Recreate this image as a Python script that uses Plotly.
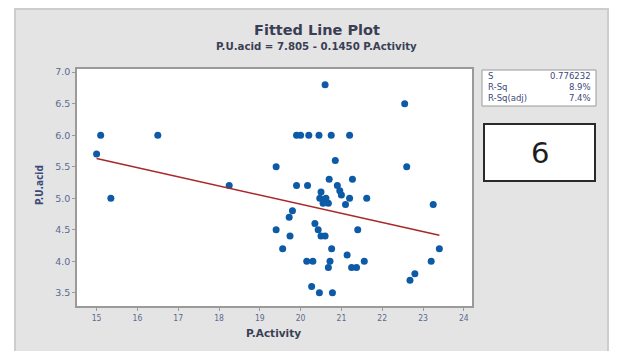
import plotly.graph_objects as go

# ---- data ----
p_activity = [15.0, 15.1, 15.35, 16.5, 18.25, 19.4, 19.4, 20.6, 22.55,
              19.9, 20.0, 20.2, 20.45, 20.75, 21.2, 20.85, 22.6, 20.7, 21.27,
              19.9, 20.17, 20.9, 20.96, 21.0, 20.5, 20.47, 20.62, 20.68, 20.55,
              21.2, 21.62, 21.1, 23.25, 19.8, 19.72, 20.35, 20.43, 20.5, 20.6,
              19.74, 21.4, 19.56, 20.76, 23.4, 21.14, 20.15, 20.3, 20.72, 20.68,
              21.25, 21.37, 21.56, 23.2, 22.8, 22.68, 20.27, 20.46, 20.78]
p_uacid = [5.7, 6.0, 5.0, 6.0, 5.2, 5.5, 4.5, 6.8, 6.5,
           6.0, 6.0, 6.0, 6.0, 6.0, 6.0, 5.6, 5.5, 5.3, 5.3,
           5.2, 5.2, 5.2, 5.12, 5.05, 5.1, 5.0, 5.0, 4.92, 4.92,
           5.0, 5.0, 4.9, 4.9, 4.8, 4.7, 4.6, 4.5, 4.4, 4.4,
           4.4, 4.5, 4.2, 4.2, 4.2, 4.1, 4.0, 4.0, 4.0, 3.9,
           3.9, 3.9, 4.0, 4.0, 3.8, 3.7, 3.6, 3.5, 3.5]
intercept = 7.805
slope = -0.1450
fit_x = [min(p_activity), max(p_activity)]
fit_y = [intercept + slope * v for v in fit_x]

x_ticks = [15, 16, 17, 18, 19, 20, 21, 22, 23, 24]
y_ticks = [3.5, 4.0, 4.5, 5.0, 5.5, 6.0, 6.5, 7.0]
stat_labels = ["S", "R-Sq", "R-Sq(adj)"]
stat_values = ["0.776232", "8.9%", "7.4%"]
title = "Fitted Line Plot"
subtitle = "P.U.acid = 7.805 - 0.1450 P.Activity"
box_number = "6"

# ---- layout geometry (pixels) ----
W, H = 622, 351
L, R, T, B = 77, 472, 69, 306


def px(x):
    return (x - L) / (R - L)


def py(y):
    return (B - y) / (B - T)


FONT = "DejaVu Sans"
COND = "DejaVu Sans Condensed, DejaVu Sans"
TXT = "#3b4a78"
DARK = "#3a3f55"

fig = go.Figure()
fig.add_trace(go.Scatter(x=p_activity, y=p_uacid, mode="markers",
                         marker=dict(symbol="circle", size=7, color="#0d5aa7"),
                         hoverinfo="x+y", showlegend=False))
fig.add_trace(go.Scatter(x=fit_x, y=fit_y, mode="lines",
                         line=dict(color="#a8282a", width=1.6),
                         hoverinfo="skip", showlegend=False))

shapes = [
    # gray panel
    dict(type="rect", xref="paper", yref="paper", x0=px(15), x1=px(608),
         y0=py(360), y1=py(9), fillcolor="#e4e4e4",
         line=dict(color="#cdcdcd", width=2), layer="below"),
    # white plot area
    dict(type="rect", xref="paper", yref="paper", x0=0, x1=1, y0=0, y1=1,
         fillcolor="white", line=dict(width=0), layer="below"),
    # stats box
    dict(type="rect", xref="paper", yref="paper", x0=px(482), x1=px(596),
         y0=py(106), y1=py(70), fillcolor="white",
         line=dict(color="#9a9a9a", width=1)),
    # number box
    dict(type="rect", xref="paper", yref="paper", x0=px(484), x1=px(595),
         y0=py(181), y1=py(124), fillcolor="white",
         line=dict(color="#2a2a2a", width=2)),
]

ann = [
    dict(text="<b>" + title + "</b>", x=px(317), y=py(30), font=dict(family=FONT, size=14.5, color=DARK)),
    dict(text="<b>" + subtitle + "</b>", x=px(316), y=py(46), font=dict(family=FONT, size=10.2, color=DARK)),
    dict(text="<b>P.U.acid</b>", x=px(39), y=py(185), textangle=-90, font=dict(family=COND, size=10, color=TXT)),
    dict(text="<b>P.Activity</b>", x=px(273), y=py(333), font=dict(family=FONT, size=10.5, color=DARK)),
    dict(text=box_number, x=px(540), y=py(153), font=dict(family=FONT, size=29, color="#1e1e1e")),
]
for a in ann:
    a.update(xref="paper", yref="paper", showarrow=False, xanchor="center", yanchor="middle")

for i, (lab, val) in enumerate(zip(stat_labels, stat_values)):
    yy = py(76 + i * 11)
    ann.append(dict(text=lab, x=px(486), y=yy, xref="paper", yref="paper", showarrow=False,
                    xanchor="left", yanchor="middle", font=dict(family=FONT, size=8.5, color=TXT)))
    ann.append(dict(text=val, x=px(593), y=yy, xref="paper", yref="paper", showarrow=False,
                    xanchor="right", yanchor="middle", font=dict(family=FONT, size=8.5, color=TXT)))

axis_common = dict(showgrid=False, zeroline=False, showline=True, mirror=True,
                   linecolor="#9a9a9a", linewidth=1.5, ticks="outside", ticklen=3,
                   tickcolor="#9a9a9a")

fig.update_layout(
    width=W, height=H, margin=dict(l=L, r=W - R, t=T, b=H - B),
    paper_bgcolor="white", plot_bgcolor="rgba(0,0,0,0)",
    font=dict(family=FONT),
    shapes=shapes, annotations=ann,
    xaxis=dict(range=[14.52, 24.2], tickvals=x_ticks,
               ticktext=[str(v) for v in x_ticks],
               tickfont=dict(family=COND, size=8.5, color="#5a6a90"), **axis_common),
    yaxis=dict(range=[3.29, 7.05], tickvals=y_ticks,
               ticktext=[f"{v:.1f}" for v in y_ticks],
               tickfont=dict(family=FONT, size=9.5, color="#5a6a90"), **axis_common),
)

fig.write_html("out.html")
